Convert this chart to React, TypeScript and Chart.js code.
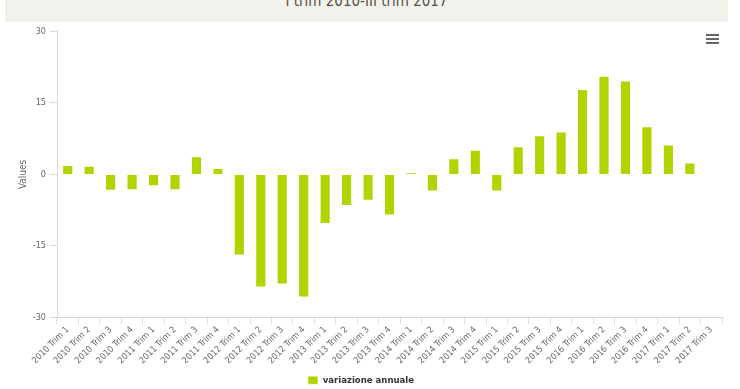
import React, { useEffect, useRef } from "react";
import { Chart, registerables } from "chart.js";

Chart.register(...registerables);

const TITLE = "I trim 2010-III trim 2017";
const SERIES_NAME = "variazione annuale";
const Y_TITLE = "Values";

const categories = [
  "2010 Trim 1", "2010 Trim 2", "2010 Trim 3", "2010 Trim 4",
  "2011 Trim 1", "2011 Trim 2", "2011 Trim 3", "2011 Trim 4",
  "2012 Trim 1", "2012 Trim 2", "2012 Trim 3", "2012 Trim 4",
  "2013 Trim 1", "2013 Trim 2", "2013 Trim 3", "2013 Trim 4",
  "2014 Trim 1", "2014 Trim 2", "2014 Trim 3", "2014 Trim 4",
  "2015 Trim 1", "2015 Trim 2", "2015 Trim 3", "2015 Trim 4",
  "2016 Trim 1", "2016 Trim 2", "2016 Trim 3", "2016 Trim 4",
  "2017 Trim 1", "2017 Trim 2", "2017 Trim 3",
];

const values: (number | null)[] = [
  2.0, 1.8, -3.4, -3.3,
  -2.5, -3.3, 3.8, 1.35,
  -17.0, -23.7, -23.1, -25.8,
  -10.4, -6.6, -5.5, -8.6,
  0.4, -3.6, 3.4, 5.2,
  -3.6, 5.9, 8.2, 9.0,
  17.9, 20.7, 19.7, 10.1,
  6.3, 2.5, null,
];

const yTicks = [-30, -15, 0, 15, 30];

const FONT = "'Liberation Sans Narrow', 'DejaVu Sans Condensed', sans-serif";

export default function App() {
  const ref = useRef<HTMLCanvasElement>(null);

  useEffect(() => {
    const chart = new Chart(ref.current!, {
      type: "bar",
      data: {
        labels: categories,
        datasets: [
          {
            label: SERIES_NAME,
            data: values,
            backgroundColor: "#b3d200",
            borderColor: "rgba(255,255,255,0.4)",
            borderWidth: 1,
            barPercentage: 0.52,
            categoryPercentage: 1,
          },
        ],
      },
      options: {
        animation: false,
        responsive: false,
        maintainAspectRatio: false,
        layout: { padding: { top: 7, right: 18, left: 0, bottom: 0 } },
        plugins: {
          tooltip: { enabled: false },
          legend: {
            position: "bottom",
            labels: {
              boxWidth: 10,
              boxHeight: 8,
              padding: 3,
              color: "#333333",
              font: { family: FONT, size: 9.5, weight: "bold" },
            },
          },
        },
        scales: {
          x: {
            grid: {
              offset: true,
              drawOnChartArea: false,
              drawTicks: true,
              tickLength: 7,
              color: "#e2e2da",
            },
            border: { color: "#d9d8cc", width: 1 },
            ticks: {
              minRotation: 45,
              maxRotation: 45,
              autoSkip: false,
              color: "#666666",
              padding: 0,
              font: { family: FONT, size: 9 },
            },
            afterFit: (s: any) => {
              s.height = 55;
            },
          },
          y: {
            min: -30,
            max: 30,
            afterBuildTicks: (s: any) => {
              s.ticks = yTicks.map((v) => ({ value: v }));
            },
            grid: {
              drawOnChartArea: false,
              drawTicks: true,
              tickLength: 7,
              color: "#d9d8cc",
            },
            border: { color: "#d9d8cc", width: 1 },
            ticks: {
              color: "#666666",
              padding: 4,
              font: { family: FONT, size: 9 },
            },
            title: {
              display: true,
              text: Y_TITLE,
              color: "#666666",
              font: { family: FONT, size: 10 },
              padding: { top: 17, bottom: 0 },
            },
            afterFit: (s: any) => {
              s.width = 57;
            },
          },
        },
      },
    });
    return () => chart.destroy();
  }, []);

  return (
    <div
      style={{
        position: "fixed",
        left: 0,
        top: 0,
        width: 740,
        height: 389,
        background: "#ffffff",
        overflow: "hidden",
      }}
    >
      <div
        style={{
          position: "absolute",
          left: 5,
          top: 0,
          width: 723,
          height: 22,
          background: "#f2f2ec",
          overflow: "hidden",
        }}
      >
        <div
          style={{
            position: "absolute",
            left: 0,
            width: "100%",
            top: -9,
            textAlign: "center",
            fontFamily: FONT,
            fontSize: 15,
            lineHeight: "20px",
            color: "#5a4e42",
            whiteSpace: "nowrap",
          }}
        >
          {TITLE}
        </div>
      </div>
      <canvas
        ref={ref}
        width={740}
        height={373}
        style={{ position: "absolute", left: 0, top: 22, width: 740, height: 373 }}
      />
      {[34, 38, 42].map((y) => (
        <div
          key={y}
          style={{
            position: "absolute",
            left: 706,
            top: y,
            width: 13,
            height: 2,
            background: "#666666",
          }}
        />
      ))}
    </div>
  );
}
